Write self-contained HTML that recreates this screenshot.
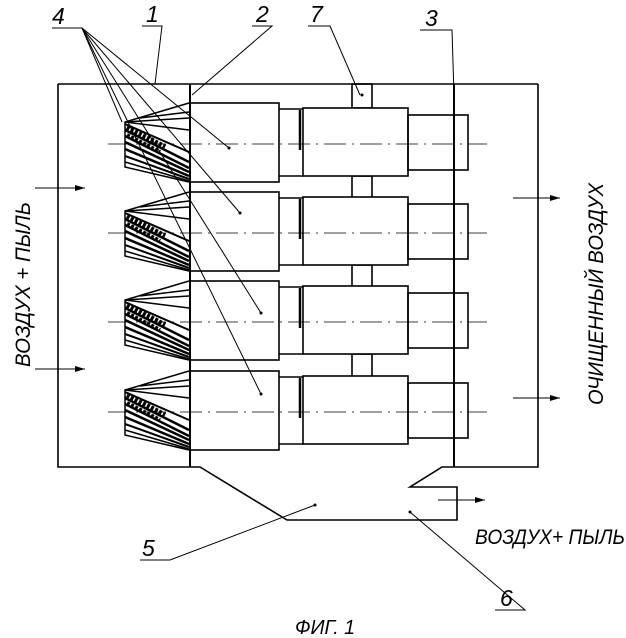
<!DOCTYPE html>
<html><head><meta charset="utf-8"><style>
html,body{margin:0;padding:0;background:#fff;}
svg{display:block;}
text{font-family:"Liberation Sans",sans-serif;font-style:italic;fill:#000;}
</style></head><body>
<svg width="626" height="638" viewBox="0 0 626 638" xmlns="http://www.w3.org/2000/svg">
<defs>
<marker id="ar" markerWidth="10" markerHeight="6" refX="10" refY="3" orient="auto" markerUnits="userSpaceOnUse">
<path d="M0,0 L10,3 L0,6 Z" fill="#000"/></marker>
<g id="row">
  <rect x="190" y="-41" width="89" height="79" fill="none" stroke="#000" stroke-width="1.6"/>
  <polyline points="279,-35 303,-35" fill="none" stroke="#000" stroke-width="1.6"/>
  <polyline points="279,32 303,32" fill="none" stroke="#000" stroke-width="1.6"/>
  <rect x="303" y="-36" width="105" height="68" fill="#fff" stroke="#000" stroke-width="1.6"/>
  <rect x="408" y="-29" width="60" height="55" fill="none" stroke="#000" stroke-width="1.6"/>
  <line x1="300" y1="-34" x2="300" y2="6" stroke="#000" stroke-width="2.5"/>
  <line x1="108" y1="0" x2="487" y2="0" stroke="#000" stroke-width="0.8" stroke-dasharray="22,6,2,6"/>
  <g stroke="#000" stroke-width="1.5" fill="none">
    <polyline points="189,-41 125,-22 125,23 189,38"/>
    <line x1="125" y1="-22" x2="189" y2="-26"/>
    <line x1="125" y1="-22" x2="189" y2="-14"/>
    <line x1="140" y1="-26" x2="189" y2="-32"/>
    <line x1="125" y1="-20" x2="189" y2="8" stroke-width="2"/>
    <line x1="125" y1="-14" x2="189" y2="18" stroke-width="2.5"/>
    <line x1="125" y1="-8" x2="189" y2="24" stroke-width="2.5"/>
    <line x1="125" y1="-2" x2="189" y2="28" stroke-width="2.5"/>
    <line x1="125" y1="5" x2="189" y2="32" stroke-width="2.5"/>
    <line x1="125" y1="12" x2="189" y2="35" stroke-width="2"/>
    <line x1="125" y1="18" x2="189" y2="37" stroke-width="1.5"/>
    <line x1="127" y1="-17" x2="165" y2="3" stroke-width="5" stroke-dasharray="3,1.5"/>
    <line x1="127" y1="-9" x2="160" y2="8" stroke-width="4" stroke-dasharray="3,1.5"/>
  </g>
</g>
</defs>
<g stroke="#000" fill="none" stroke-width="1.6">
  <polyline points="58,84 538,84"/>
  <polyline points="58,84 58,467 190,467"/>
  <polyline points="538,84 538,467 442,467 410,487 457,487 457,520 287,520 200,467 190,467"/>
  <line x1="190" y1="84" x2="190" y2="467" stroke-width="2"/>
  <line x1="454" y1="84" x2="454" y2="467" stroke-width="2"/>
  <rect x="352" y="84" width="20" height="24"/>
  <rect x="352" y="176" width="20" height="22"/>
  <rect x="352" y="265" width="20" height="22"/>
  <rect x="352" y="354" width="20" height="24"/>
</g>
<use href="#row" transform="translate(0,144)"/>
<use href="#row" transform="translate(0,233)"/>
<use href="#row" transform="translate(0,322)"/>
<use href="#row" transform="translate(0,412)"/>
<g stroke="#000" stroke-width="1" fill="none">
  <line x1="82" y1="28" x2="229" y2="148"/>
  <line x1="82" y1="28" x2="240" y2="213"/>
  <line x1="82" y1="28" x2="261" y2="313"/>
  <line x1="82" y1="28" x2="261" y2="394"/>
  <line x1="82" y1="28" x2="122" y2="122"/>
  <polyline points="52,28 82,28"/>
  <polyline points="142,26 162,26 155,84"/>
  <polyline points="252,26 272,26 192,95"/>
  <polyline points="308,26 330,26 360,95"/>
  <polyline points="420,30 452,30 454,95"/>
  <polyline points="140,560 170,560 315,505"/>
  <polyline points="495,610 525,610 410,512"/>
  <line x1="35" y1="188" x2="85" y2="188" marker-end="url(#ar)"/>
  <line x1="35" y1="369" x2="85" y2="369" marker-end="url(#ar)"/>
  <line x1="513" y1="198" x2="560" y2="198" marker-end="url(#ar)"/>
  <line x1="513" y1="398" x2="560" y2="398" marker-end="url(#ar)"/>
  <line x1="438" y1="500" x2="485" y2="500" marker-end="url(#ar)"/>
</g>
<g fill="#000">
  <circle cx="229" cy="148" r="1.5"/><circle cx="240" cy="213" r="1.5"/>
  <circle cx="261" cy="313" r="1.5"/><circle cx="261" cy="394" r="1.5"/>
  <circle cx="362" cy="95" r="1.5"/><circle cx="315" cy="505" r="1.5"/><circle cx="410" cy="512" r="1.5"/>
</g>
<g font-size="23">
  <text x="52" y="24">4</text>
  <text x="146" y="22">1</text>
  <text x="256" y="22">2</text>
  <text x="310" y="22">7</text>
  <text x="425" y="26">3</text>
  <text x="142" y="556">5</text>
  <text x="500" y="606">6</text>
</g>
<text x="0" y="0" font-size="21" transform="translate(30,367) rotate(-90)" textLength="165" lengthAdjust="spacingAndGlyphs">ВОЗДУХ + ПЫЛЬ</text>
<text x="0" y="0" font-size="21" transform="translate(603,405) rotate(-90)" textLength="222" lengthAdjust="spacingAndGlyphs">ОЧИЩЕННЫЙ ВОЗДУХ</text>
<text x="475" y="544" font-size="21" textLength="150" lengthAdjust="spacingAndGlyphs">ВОЗДУХ+ ПЫЛЬ</text>
<text x="295" y="634" font-size="20" textLength="60" lengthAdjust="spacingAndGlyphs">ФИГ.  1</text>
</svg>
</body></html>
